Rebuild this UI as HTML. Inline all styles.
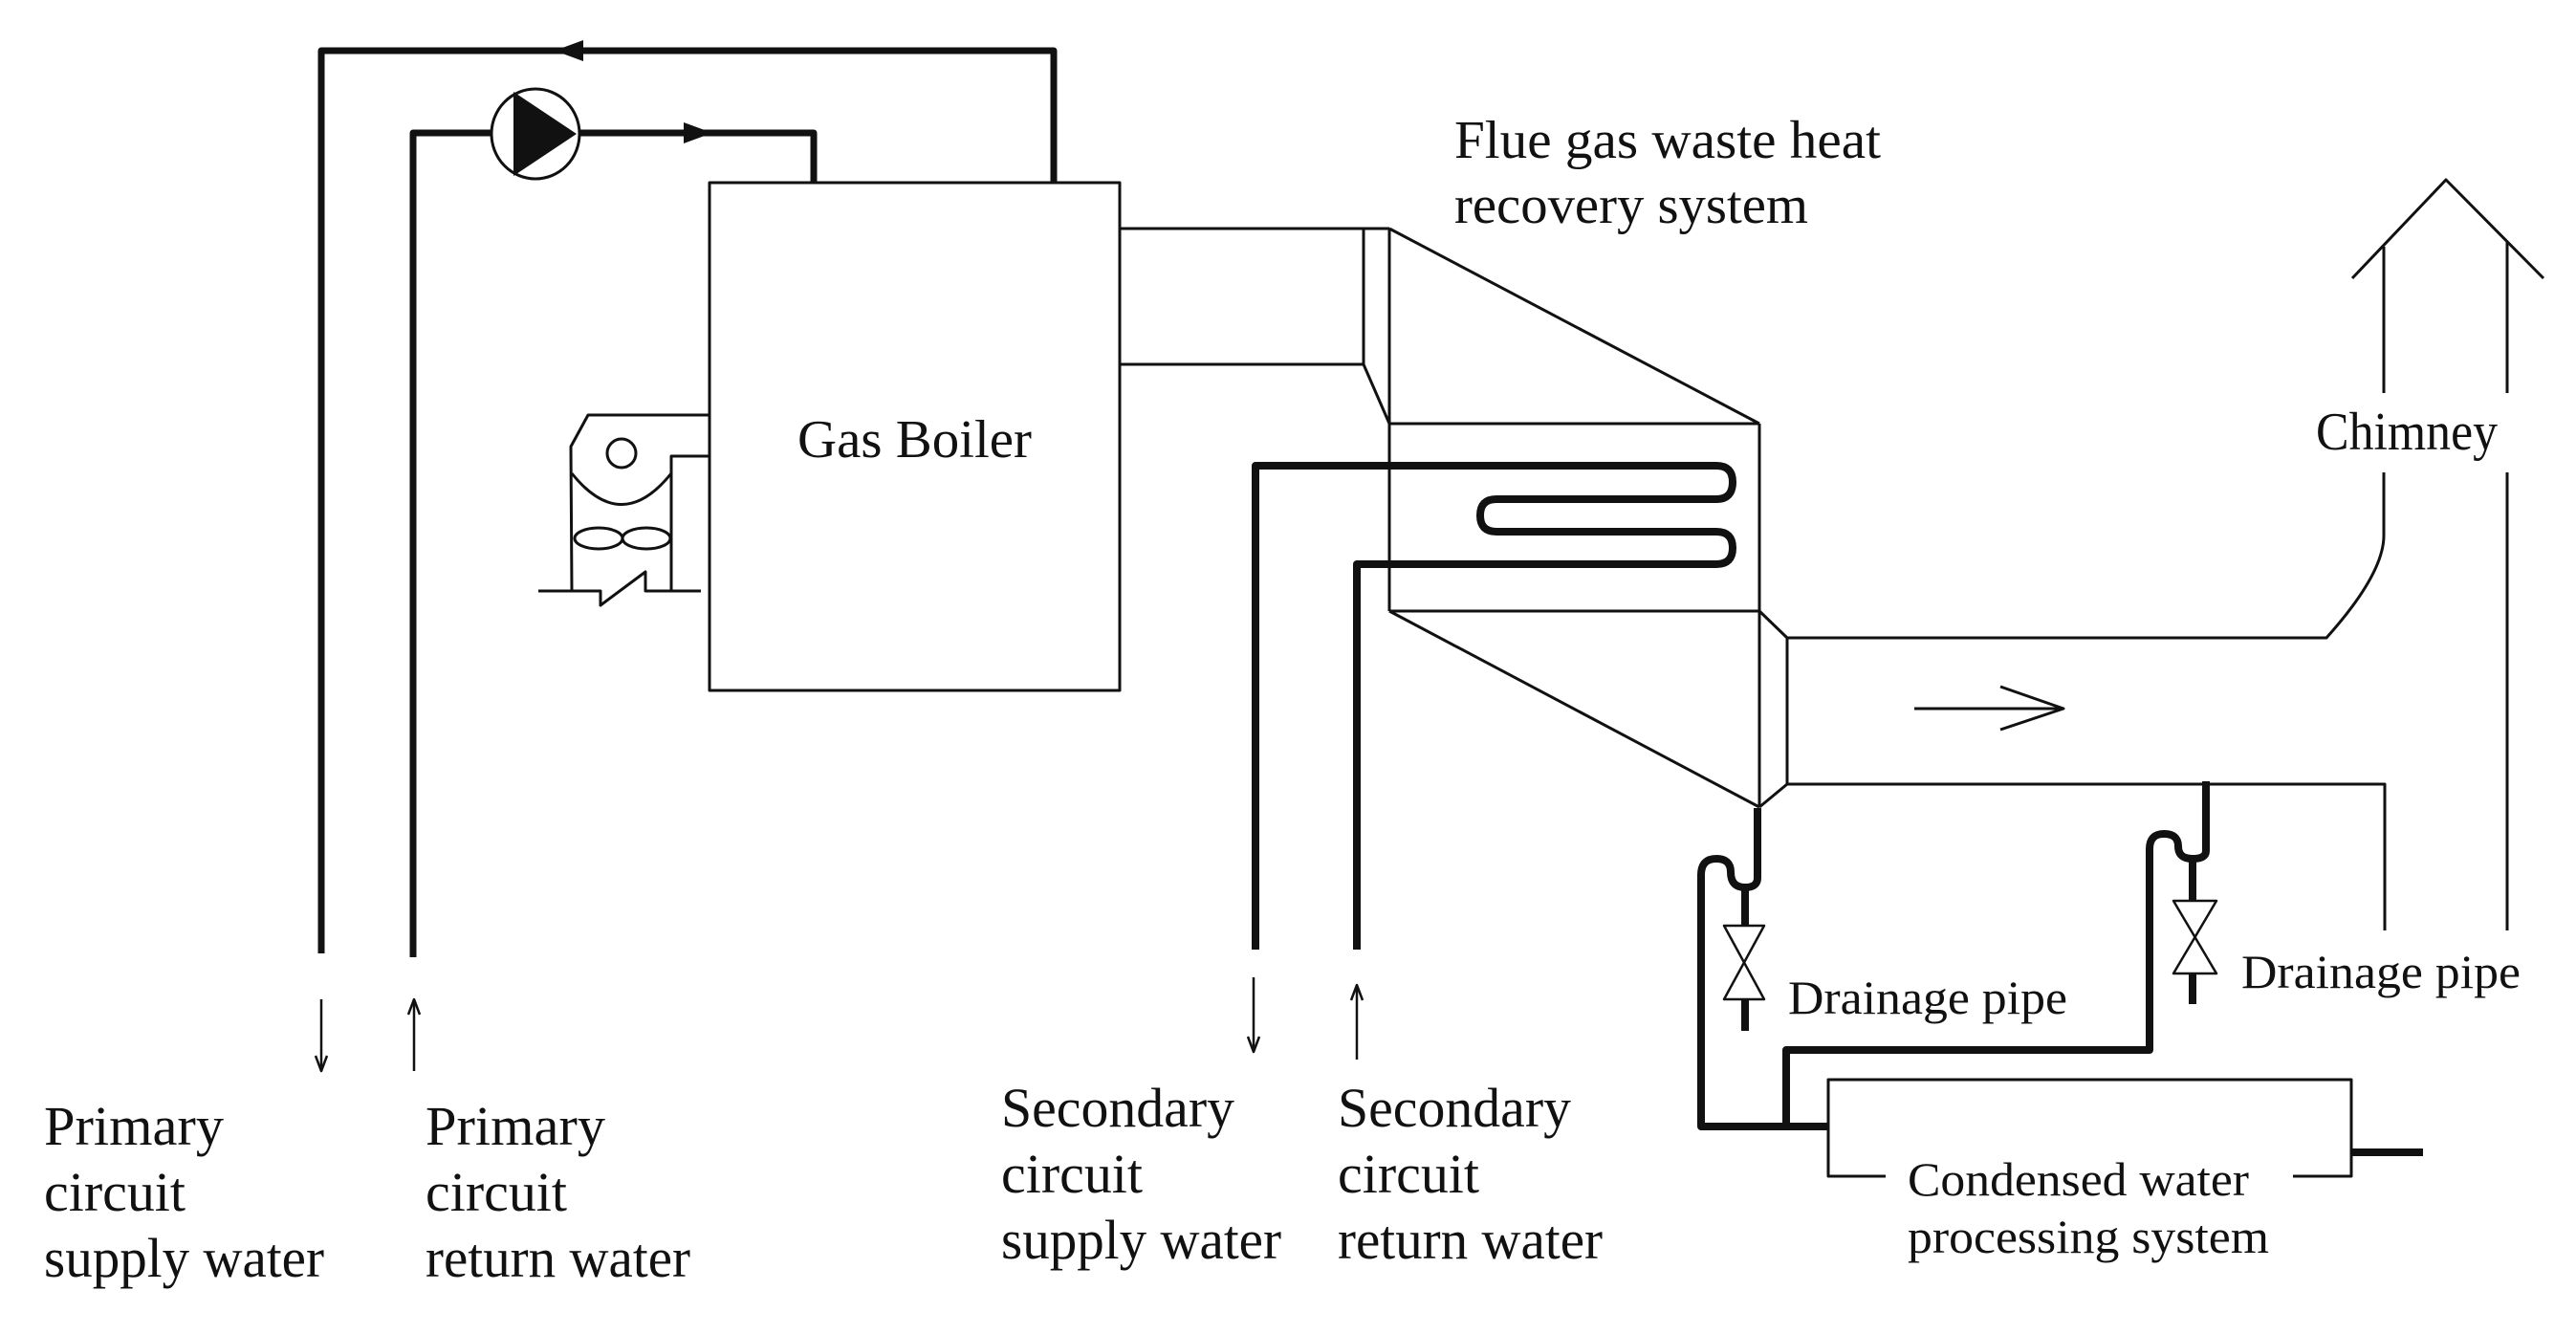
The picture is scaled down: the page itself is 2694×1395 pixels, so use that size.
<!DOCTYPE html>
<html><head><meta charset="utf-8"><style>
html,body{margin:0;padding:0;background:#fff;}
svg{display:block;}
text{font-family:"Liberation Serif","Times New Roman",serif;fill:#111;}
</style></head><body>
<svg width="2694" height="1395" viewBox="0 0 2694 1395" xmlns="http://www.w3.org/2000/svg">
<g fill="none" stroke="#111" stroke-linejoin="round">
<polyline points="336,997 336,53 1102,53 1102,191" stroke-width="7"/>
<polyline points="432,1001 432,139 851,139 851,191" stroke-width="7"/>
<polygon points="580,53 610,42 610,64" fill="#111" stroke="none"/>
<polygon points="745,139 715,128 715,150" fill="#111" stroke="none"/>
<ellipse cx="560" cy="140" rx="46" ry="47" stroke-width="3" fill="#fff"/>
<polygon points="537,96 603,140 537,184" fill="#111" stroke="none"/>
<rect x="742" y="191" width="429" height="531" stroke-width="3"/>
<polyline points="742,434 615,434 597,467 598,618" stroke-width="3"/>
<polyline points="742,477 702,477 702,618" stroke-width="3"/>
<circle cx="650" cy="474" r="15" stroke-width="3"/>
<path d="M598,495 Q650,560 702,495" stroke-width="3"/>
<ellipse cx="626" cy="563" rx="25" ry="11" stroke-width="3"/>
<ellipse cx="676" cy="563" rx="25" ry="11" stroke-width="3"/>
<polyline points="563,618 628,618 628,633 675,598 675,618 733,618" stroke-width="3"/>
<polyline points="1171,239 1453,239" stroke-width="3"/>
<polyline points="1171,381 1426,381" stroke-width="3"/>
<line x1="1426" y1="239" x2="1426" y2="381" stroke-width="3"/>
<line x1="1426" y1="381" x2="1453" y2="443" stroke-width="3"/>
<line x1="1453" y1="239" x2="1453" y2="639" stroke-width="3"/>
<line x1="1453" y1="239" x2="1840" y2="443" stroke-width="3"/>
<line x1="1453" y1="443" x2="1840" y2="443" stroke-width="3"/>
<line x1="1453" y1="639" x2="1840" y2="639" stroke-width="3"/>
<line x1="1453" y1="639" x2="1840" y2="844" stroke-width="3"/>
<line x1="1840" y1="443" x2="1840" y2="844" stroke-width="3"/>
<line x1="1840" y1="639" x2="1869" y2="667" stroke-width="3"/>
<line x1="1840" y1="844" x2="1869" y2="820" stroke-width="3"/>
<line x1="1869" y1="667" x2="1869" y2="820" stroke-width="3"/>
<path d="M1869,667 L2433,667 Q2493,600 2493,560 L2493,494" stroke-width="3"/>
<line x1="2493" y1="411" x2="2493" y2="258" stroke-width="3"/>
<polyline points="2460,291 2558,188 2660,291" stroke-width="3"/>
<line x1="2622" y1="253" x2="2622" y2="411" stroke-width="3"/>
<line x1="2622" y1="494" x2="2622" y2="973" stroke-width="3"/>
<polyline points="1869,820 2494,820 2494,973" stroke-width="3"/>
<line x1="2002" y1="741" x2="2158" y2="741" stroke-width="3"/>
<polyline points="2092,718 2158,741 2092,763" stroke-width="3"/>
<path d="M1313,993 L1313,487 L1795,487 Q1812,487 1812,504 Q1812,522 1795,522 L1565,522 Q1548,522 1548,539 Q1548,556 1565,556 L1795,556 Q1812,556 1812,573 Q1812,590 1795,590 L1419,590 L1419,993" stroke-width="8"/>
<line x1="1311" y1="1022" x2="1311" y2="1100" stroke-width="2.5"/>
<polyline points="1305,1084 1311,1100 1317,1084" stroke-width="2.5"/>
<line x1="1419" y1="1030" x2="1419" y2="1108" stroke-width="2.5"/>
<polyline points="1413,1046 1419,1030 1425,1046" stroke-width="2.5"/>
<line x1="336" y1="1045" x2="336" y2="1120" stroke-width="2.5"/>
<polyline points="330,1104 336,1120 342,1104" stroke-width="2.5"/>
<line x1="433" y1="1045" x2="433" y2="1120" stroke-width="2.5"/>
<polyline points="427,1061 433,1045 439,1061" stroke-width="2.5"/>
<path d="M1838,845 L1838,918 Q1838,928 1825,928 Q1810,928 1810,912 Q1810,898 1795,898 Q1779,898 1779,915 L1779,1178 L1912,1178" stroke-width="8"/>
<line x1="1825" y1="928" x2="1825" y2="968" stroke-width="8"/>
<line x1="1825" y1="1045" x2="1825" y2="1078" stroke-width="8"/>
<polygon points="1803,968 1845,968 1803,1045 1845,1045" stroke-width="2.5"/>
<path d="M2307,817 L2307,890 Q2307,898 2293,898 Q2278,898 2278,885 Q2278,872 2263,872 Q2248,872 2248,888 L2248,1098 L1868,1098 L1868,1178" stroke-width="8"/>
<line x1="2293" y1="898" x2="2293" y2="942" stroke-width="8"/>
<line x1="2293" y1="1018" x2="2293" y2="1050" stroke-width="8"/>
<polygon points="2273,942 2318,942 2273,1018 2318,1018" stroke-width="2.5"/>
<polyline points="1972,1230 1912,1230 1912,1129 2459,1129 2459,1230 2398,1230" stroke-width="3"/>
<line x1="2459" y1="1205" x2="2534" y2="1205" stroke-width="8"/>
</g>
<g font-size="56">
<text x="834" y="478" textLength="245" lengthAdjust="spacingAndGlyphs">Gas Boiler</text>
<text x="1521" y="165" textLength="446" lengthAdjust="spacingAndGlyphs">Flue gas waste heat</text>
<text x="1521" y="233" textLength="370" lengthAdjust="spacingAndGlyphs">recovery system</text>
<text x="2422" y="470" textLength="190" lengthAdjust="spacingAndGlyphs">Chimney</text>
</g>
<g font-size="50">
<text x="1870" y="1060" textLength="292" lengthAdjust="spacingAndGlyphs">Drainage pipe</text>
<text x="2344" y="1033" textLength="292" lengthAdjust="spacingAndGlyphs">Drainage pipe</text>
<text x="1995" y="1250" textLength="357" lengthAdjust="spacingAndGlyphs">Condensed water</text>
<text x="1995" y="1310" textLength="378" lengthAdjust="spacingAndGlyphs">processing system</text>
</g>
<g font-size="58">
<text x="46" y="1197" textLength="188" lengthAdjust="spacingAndGlyphs">Primary</text>
<text x="46" y="1266" textLength="148" lengthAdjust="spacingAndGlyphs">circuit</text>
<text x="46" y="1335" textLength="293" lengthAdjust="spacingAndGlyphs">supply water</text>
<text x="445" y="1197" textLength="188" lengthAdjust="spacingAndGlyphs">Primary</text>
<text x="445" y="1266" textLength="148" lengthAdjust="spacingAndGlyphs">circuit</text>
<text x="445" y="1335" textLength="277" lengthAdjust="spacingAndGlyphs">return water</text>
<text x="1047" y="1178" textLength="244" lengthAdjust="spacingAndGlyphs">Secondary</text>
<text x="1047" y="1247" textLength="148" lengthAdjust="spacingAndGlyphs">circuit</text>
<text x="1047" y="1316" textLength="293" lengthAdjust="spacingAndGlyphs">supply water</text>
<text x="1399" y="1178" textLength="244" lengthAdjust="spacingAndGlyphs">Secondary</text>
<text x="1399" y="1247" textLength="148" lengthAdjust="spacingAndGlyphs">circuit</text>
<text x="1399" y="1316" textLength="277" lengthAdjust="spacingAndGlyphs">return water</text>
</g>
</svg>
</body></html>
